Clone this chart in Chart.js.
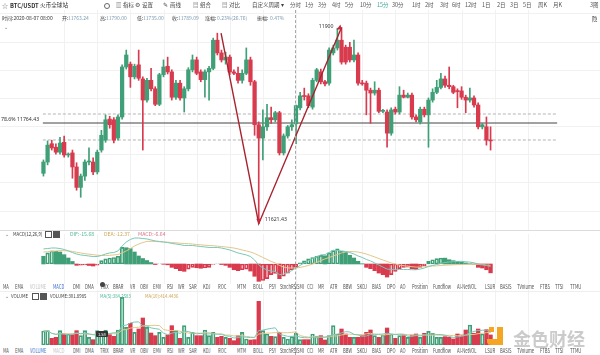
<!DOCTYPE html>
<html>
<head>
<meta charset="utf-8">
<script src="https://cdn.jsdelivr.net/npm/chart.js@4.4.1/dist/chart.umd.min.js"></script>
<style>
  body { margin: 0; background: #fff; width: 600px; height: 355px; overflow: hidden; position: relative;
         font-family: "Noto Sans CJK SC", "Noto Sans", sans-serif; }
  canvas { position: absolute; left: 0; }
  .t { position: absolute; white-space: nowrap; line-height: 1; }
  .box { position: absolute; }
</style>
</head>
<body>
<canvas id="price" width="600" height="220" style="top:10px"></canvas>
<canvas id="macd" width="600" height="50" style="top:234px"></canvas>
<canvas id="vol" width="600" height="55" style="top:290px"></canvas>
<script>
// BTC/USDT 15min candles
const candleOpen = [
  11693, 11709, 11735, 11730, 11723, 11737, 11719, 11722, 11702, 11673,
  11689, 11709, 11709, 11695, 11726, 11740, 11770, 11769, 11743, 11773,
  11844, 11848, 11830, 11847, 11827, 11797, 11825, 11813, 11791, 11833,
  11845, 11837, 11801, 11821, 11800, 11813, 11840, 11854, 11837, 11826,
  11837, 11842, 11882, 11864, 11854, 11858, 11837, 11835, 11825, 11835,
  11854, 11823, 11762, 11743, 11759, 11772, 11769, 11779, 11722, 11746,
  11759, 11763.24, 11786, 11803, 11803, 11787, 11825, 11837, 11823, 11821,
  11864, 11871, 11882, 11872, 11872, 11854, 11861, 11821, 11821, 11811,
  11807, 11811, 11781, 11780, 11750, 11784, 11780, 11804, 11801, 11804,
  11773, 11766, 11784, 11776, 11797, 11808, 11815, 11827, 11818, 11816,
  11810, 11810, 11801, 11797, 11800, 11790, 11759, 11759, 11740
];
const candleHigh = [
  11712, 11739, 11740, 11735, 11744, 11746, 11722, 11726, 11708, 11692,
  11712, 11729, 11715, 11726, 11754, 11776, 11774, 11772, 11776, 11847,
  11868, 11851, 11848, 11868, 11830, 11828, 11842, 11816, 11835, 11854,
  11858, 11840, 11825, 11825, 11816, 11843, 11861, 11858, 11840, 11840,
  11845, 11885, 11892, 11868, 11865, 11861, 11840, 11844, 11840, 11871,
  11858, 11825, 11766, 11783, 11791, 11787, 11781, 11781, 11749, 11761,
  11769, 11790, 11808, 11814, 11806, 11828, 11842, 11841, 11825, 11871,
  11875, 11899, 11900, 11875, 11879, 11882, 11864, 11825, 11824, 11814,
  11823, 11814, 11784, 11783, 11786, 11787, 11816, 11811, 11807, 11807,
  11776, 11787, 11787, 11800, 11813, 11825, 11835, 11831, 11844, 11818,
  11813, 11816, 11804, 11814, 11803, 11793, 11764, 11773, 11759
];
const candleLow = [
  11689, 11705, 11726, 11720, 11720, 11716, 11716, 11686, 11669, 11659,
  11683, 11705, 11691, 11692, 11723, 11737, 11757, 11736, 11740, 11770,
  11841, 11815, 11827, 11825, 11726, 11794, 11810, 11789, 11789, 11830,
  11834, 11797, 11798, 11797, 11780, 11810, 11837, 11833, 11823, 11801,
  11797, 11840, 11861, 11851, 11848, 11833, 11833, 11821, 11821, 11833,
  11818, 11747, 11621.43, 11712, 11754, 11764, 11766, 11719, 11719, 11743,
  11754, 11735, 11783, 11797, 11786, 11784, 11823, 11820, 11817, 11818,
  11861, 11868, 11848, 11848, 11851, 11851, 11818, 11818, 11776, 11764,
  11804, 11779, 11779, 11730, 11747, 11777, 11777, 11800, 11800, 11770,
  11766, 11763, 11773, 11730, 11794, 11806, 11813, 11815, 11813, 11806,
  11786, 11798, 11779, 11794, 11787, 11756, 11756, 11733, 11726
];
const candleClose = [
  11709, 11733, 11729, 11723, 11736, 11719, 11719.5, 11702, 11673, 11689,
  11709, 11710, 11695, 11723, 11747, 11769, 11762, 11740, 11773, 11844,
  11861, 11830, 11845, 11828, 11797, 11825, 11813, 11791, 11833, 11844,
  11837, 11801, 11821, 11800, 11813, 11840, 11854, 11835, 11826, 11837,
  11842, 11882, 11864, 11854, 11858, 11837, 11835, 11825, 11835, 11854,
  11823, 11762, 11743, 11759, 11772, 11769, 11779, 11722, 11746, 11759,
  11762, 11789.09, 11803, 11802, 11789, 11825, 11840, 11823, 11820, 11868,
  11871, 11882, 11851, 11851, 11854, 11861, 11821, 11820, 11811, 11807,
  11811, 11781, 11782, 11750, 11783, 11780, 11804, 11801, 11804, 11773,
  11769, 11784, 11776, 11797, 11808, 11815, 11827, 11818, 11816, 11808,
  11809, 11801, 11797, 11800, 11790, 11759, 11762, 11740, 11739
];
const volume = [
  420, 430, 200, 230, 430, 330, 330, 310, 430, 280,
  430, 230, 160, 430, 380, 450, 310, 260, 450, 1430,
  530, 650, 380, 480, 810, 530, 360, 280, 380, 230,
  300, 580, 430, 200, 580, 230, 380, 280, 280, 450,
  280, 380, 230, 260, 230, 200, 130, 280, 380, 180,
  150, 160, 1310, 430, 330, 260, 250, 380, 230, 180,
  250, 350, 160, 160, 160, 330, 270, 280, 150, 280,
  580, 330, 480, 330, 230, 230, 230, 280, 380, 450,
  280, 230, 300, 510, 330, 200, 280, 280, 230, 300,
  330, 230, 350, 410, 350, 230, 230, 250, 230, 180,
  330, 300, 450, 600, 350, 480, 330, 460, 301.8985
];
const macdHist = [
  5.8, 8.3, 9.8, 9.5, 9.0, 7.0, 4.5, 1.9, -1.0, -0.8,
  -0.6, -1.1, -1.5, -0.9, 2.5, 3.8, 4.5, 4.9, 5.8, 12.5,
  12.2, 11.6, 9.0, 6.0, 4.1, 2.6, 1.1, -0.4, 0.2, -0.2,
  -0.6, -2.5, -3.5, -5.0, -5.5, -3.8, -2.5, -2.8, -3.2, -3.0,
  -2.5, -0.4, 0.2, -0.4, -1.0, -2.5, -4.3, -5.0, -4.3, -3.8,
  -5.3, -9.2, -13.0, -12.4, -11.0, -8.0, -7.1, -11.0, -9.2, -6.8,
  -4.3, -2.5, 0.8, 2.3, 3.8, 4.9, 5.8, 6.5, 6.2, 8.3,
  10.0, 11.3, 9.5, 9.0, 6.5, 4.5, 2.0, 0.2, -2.5, -3.5,
  -5.0, -6.8, -8.0, -9.8, -8.0, -5.5, -3.5, -2.5, -2.3, -3.5,
  -4.1, -2.5, -1.3, 2.0, 3.2, 4.0, 4.5, 4.4, 3.2, 2.5,
  2.0, 1.5, 0.8, 0.2, -0.2, -2.5, -3.0, -4.3, -6.64
];
const macdDif = [
  11.3, 11.6, 12.0, 12.0, 11.6, 10.9, 9.8, 8.6, 7.5, 6.8,
  6.4, 6.0, 5.6, 5.6, 6.4, 7.5, 8.3, 8.6, 9.8, 13.5,
  16.5, 18.4, 19.5, 19.5, 19.1, 18.8, 18.0, 17.3, 16.9, 16.5,
  16.1, 15.4, 15.0, 14.5, 13.9, 13.9, 13.9, 13.5, 13.1, 12.8,
  12.4, 12.4, 12.4, 12.0, 11.3, 10.5, 9.4, 8.3, 7.5, 6.8,
  5.6, 3.0, -0.8, -3.0, -4.5, -5.3, -5.6, -8.0, -7.5, -6.4,
  -4.9, -3.0, -1.1, 0.8, 2.3, 4.1, 5.6, 6.8, 7.1, 8.6,
  10.3, 10.1, 9.8, 9.4, 8.6, 7.5, 6.0, 4.9, 3.4, 2.3,
  0.8, -0.8, -2.3, -3.8, -4.1, -4.3, -4.1, -4.1, -4.1, -4.3,
  -4.3, -3.8, -3.0, -1.9, -1.1, -0.4, 0.4, 1.1, 1.5, 1.7,
  1.9, 2.0, 1.7, 1.4, 0.9, 0.0, -0.6, -1.1, -1.9
];
const macdDea = [
  9.0, 9.2, 9.5, 9.8, 10.0, 10.0, 9.8, 9.4, 8.8, 8.3,
  7.7, 7.4, 7.0, 6.6, 6.4, 6.4, 6.5, 6.8, 7.1, 8.3,
  9.8, 11.6, 13.5, 15.0, 16.1, 17.0, 17.0, 16.9, 16.7, 16.5,
  16.4, 16.1, 15.9, 15.6, 15.4, 15.2, 15.0, 14.6, 14.4, 14.1,
  13.9, 13.7, 13.4, 13.1, 12.8, 12.4, 12.0, 11.3, 10.5, 9.8,
  9.0, 7.9, 6.4, 4.9, 3.4, 1.9, 0.8, -1.1, -2.3, -2.9,
  -3.0, -3.0, -2.6, -1.9, -1.1, 0.0, 1.1, 2.6, 3.8, 4.9,
  6.0, 7.1, 8.3, 9.0, 9.4, 9.2, 9.0, 8.3, 7.5, 6.4,
  5.3, 4.1, 3.0, 1.9, 0.8, 0.0, -0.8, -1.3, -1.7, -2.0,
  -2.3, -2.3, -2.0, -1.7, -1.5, -1.4, -1.1, -0.9, -0.8, -0.6,
  -0.5, -0.4, -0.2, -0.2, -0.2, -0.3, -0.5, -0.8, -1.0
];
// drawings on the price pane
const fibDashed = [11777.2, 11740.3];
const fibLevel = 11764.43;
const swingX = [42.9, 52, 72];
const swingPrice = [11892, 11621.43, 11900];

const X_MIN = -0.145, X_MAX = 124.08;
const green = '#3f9f76', red = '#d83a4e';
const idx = candleOpen.map((_, i) => i);
const up = (i) => candleClose[i] >= candleOpen[i];

function movingAvg(arr, n) {
  return arr.map((_, i) => {
    const s = arr.slice(Math.max(0, i - n + 1), i + 1);
    return s.reduce((a, b) => a + b, 0) / s.length;
  });
}

function gridPlugin(hStep, hFrom, hTo) {
  return {
    id: 'paneGrid',
    beforeDatasetsDraw(chart) {
      const { ctx, chartArea: a, scales: { x, y } } = chart;
      ctx.save();
      ctx.strokeStyle = '#f1f1f1';
      ctx.lineWidth = 1;
      ctx.beginPath();
      for (let i = 5; i < X_MAX; i += 8) {
        const px = Math.round(x.getPixelForValue(i)) + 0.5;
        ctx.moveTo(px, a.top);
        ctx.lineTo(px, a.bottom);
      }
      if (hStep) {
        for (let v = hFrom; v <= hTo; v += hStep) {
          const py = Math.round(y.getPixelForValue(v)) + 0.5;
          ctx.moveTo(a.left, py);
          ctx.lineTo(a.right, py);
        }
      }
      ctx.stroke();
      ctx.restore();
    }
  };
}

const priceLabels = {
  id: 'priceLabels',
  afterDatasetsDraw(chart) {
    const { ctx, scales: { x, y } } = chart;
    ctx.save();
    ctx.font = '5.2px "Noto Sans"';
    ctx.fillStyle = '#333';
    ctx.textBaseline = 'middle';
    ctx.fillText('78.6% ' + fibLevel.toFixed(2), 1, y.getPixelForValue(fibLevel) - 3.5);

    const hx = x.getPixelForValue(swingX[2]), hy = y.getPixelForValue(swingPrice[2]);
    ctx.textAlign = 'right';
    ctx.fillText(String(swingPrice[2]), hx - 8, hy - 1);
    const lx = x.getPixelForValue(swingX[1]), ly = y.getPixelForValue(swingPrice[1]);
    ctx.textAlign = 'left';
    ctx.fillText(swingPrice[1].toFixed(2), lx + 6, ly - 4);

    ctx.fillStyle = '#c8283a';
    ctx.beginPath();
    ctx.moveTo(hx - 5, hy + 2);
    ctx.lineTo(hx - 1, hy - 3);
    ctx.lineTo(hx, hy + 2);
    ctx.closePath();
    ctx.fill();
    ctx.beginPath();
    ctx.moveTo(lx - 2.5, ly - 5);
    ctx.lineTo(lx + 2.5, ly - 5);
    ctx.lineTo(lx, ly);
    ctx.closePath();
    ctx.fill();
    ctx.restore();
  }
};

function baseOptions(yMin, yMax) {
  return {
    responsive: false,
    animation: false,
    events: [],
    layout: { padding: 0 },
    plugins: { legend: { display: false }, tooltip: { enabled: false } },
    scales: {
      x: { type: 'linear', display: false, min: X_MIN, max: X_MAX },
      y: { display: false, min: yMin, max: yMax }
    }
  };
}

function hLine(price, color, dash) {
  return {
    type: 'line', order: 3,
    data: [{ x: X_MIN, y: price }, { x: X_MAX, y: price }],
    borderColor: color, borderWidth: 1, borderDash: dash, pointRadius: 0
  };
}

new Chart(document.getElementById('price'), {
  type: 'bar',
  data: {
    datasets: [
      {
        type: 'line', order: 0,
        data: swingX.map((x, i) => ({ x: x, y: swingPrice[i] })),
        borderColor: '#a8232f', borderWidth: 1.4, pointRadius: 0
      },
      {
        type: 'bar', order: 1, grouped: false, barThickness: 3.6, minBarLength: 1,
        data: idx.map((i) => ({ x: i, y: [candleOpen[i], candleClose[i]] })),
        backgroundColor: (c) => (up(c.dataIndex) ? green : red)
      },
      {
        type: 'bar', order: 2, grouped: false, barThickness: 1,
        data: idx.map((i) => ({ x: i, y: [candleLow[i], candleHigh[i]] })),
        backgroundColor: (c) => (up(c.dataIndex) ? green : red)
      },
      hLine(fibDashed[0], '#b4b4b4', [3, 2]),
      hLine(fibDashed[1], '#b4b4b4', [3, 2]),
      hLine(fibLevel, '#444', [])
    ]
  },
  options: baseOptions(11612.49, 11924.89),
  plugins: [gridPlugin(40, 11640, 11920), priceLabels]
});

const histUp = (i) => i > 0 && macdHist[i] > macdHist[i - 1];
new Chart(document.getElementById('macd'), {
  type: 'bar',
  data: {
    datasets: [
      {
        type: 'line', order: 0, data: idx.map((i) => ({ x: i, y: macdDif[i] })),
        borderColor: '#79c7b6', borderWidth: 1, pointRadius: 0
      },
      {
        type: 'line', order: 1, data: idx.map((i) => ({ x: i, y: macdDea[i] })),
        borderColor: '#e2c68a', borderWidth: 1, pointRadius: 0
      },
      {
        type: 'bar', order: 2, grouped: false, barThickness: 3.6, borderSkipped: false,
        data: idx.map((i) => ({ x: i, y: macdHist[i] })),
        backgroundColor: (c) => (histUp(c.dataIndex) ? 'rgba(0,0,0,0)' : (macdHist[c.dataIndex] >= 0 ? green : red)),
        borderColor: (c) => (macdHist[c.dataIndex] >= 0 ? green : red),
        borderWidth: (c) => (histUp(c.dataIndex) ? 1 : 0)
      }
    ]
  },
  options: baseOptions(-15, 22.5),
  plugins: [gridPlugin()]
});

new Chart(document.getElementById('vol'), {
  type: 'bar',
  data: {
    datasets: [
      {
        type: 'line', order: 0, data: movingAvg(volume, 5).map((v, i) => ({ x: i, y: v })),
        borderColor: '#79c7b6', borderWidth: 1, pointRadius: 0
      },
      {
        type: 'line', order: 1, data: movingAvg(volume, 10).map((v, i) => ({ x: i, y: v })),
        borderColor: '#e2c68a', borderWidth: 1, pointRadius: 0
      },
      {
        type: 'bar', order: 2, grouped: false, barThickness: 3.6, borderSkipped: false,
        data: idx.map((i) => ({ x: i, y: volume[i] })),
        backgroundColor: (c) => (up(c.dataIndex) ? 'rgba(0,0,0,0)' : red),
        borderColor: (c) => (up(c.dataIndex) ? green : red),
        borderWidth: (c) => (up(c.dataIndex) ? 1 : 0)
      }
    ]
  },
  options: baseOptions(0, 1650),
  plugins: [gridPlugin()]
});

// ---- page chrome: toolbars, headers, tabs ----
function put(text, x, y, size, color, extra) {
  const d = document.createElement('div');
  d.className = 't';
  d.textContent = text;
  d.style.left = x + 'px';
  d.style.top = (y - size / 2) + 'px';
  d.style.fontSize = size + 'px';
  d.style.color = color;
  if (extra) Object.assign(d.style, extra);
  document.body.appendChild(d);
}
function box(x, y, w, h, style) {
  const d = document.createElement('div');
  d.className = 'box';
  Object.assign(d.style, { left: x + 'px', top: y + 'px', width: w + 'px', height: h + 'px' }, style);
  document.body.appendChild(d);
}
const narrow = { transform: 'scaleX(0.84)', transformOrigin: 'left center' };

put('☆', 2, 5.5, 6, '#555');
put('BTC/USDT', 10, 5.5, 5.8, '#333', { fontWeight: 'bold' });
put('火币全球站', 40, 5.5, 5.6, '#333');
box(104, 3, 4, 4, { border: '1px solid #666', borderRadius: '50%' });
const tools = [['指标', 123, '▥'], ['设置', 142, '⚙'], ['画线', 170, '✎'], ['组合', 200, '▤'], ['对比', 229, '▤']];
tools.forEach(([t, x, ic]) => {
  put(ic, x - 7, 5.5, 5.5, '#555');
  put(t, x, 5.5, 5.5, '#444');
});
put('自定义周期 ▾', 252, 5.5, 5.5, '#444');
const periods = [['分时', 290], ['1分', 305], ['3分', 318], ['4时', 332], ['5分', 345], ['10分', 360],
  ['15分', 377], ['30分', 392], ['1时', 412], ['2时', 425], ['3时', 440], ['6时', 452], ['12时', 465],
  ['1日', 482], ['2日', 497], ['3日', 510], ['5日', 523], ['周K', 538], ['月K', 553]];
periods.forEach(([t, x]) => put(t, x, 5.5, 5.5, t === '15分' ? '#3aa39a' : '#555'));
put('3图', 590, 5.5, 5.5, '#555');
put('隐', 592, 20, 5.5, '#333');

const info = [['时间:2020-08-07 08:00', 2, '#444'], ['开:', 62, '#444'], ['11763.24', 68, '#7b9bb0'],
  ['高:', 100, '#444'], ['11790.00', 106, '#7b9bb0'], ['低:', 137, '#444'], ['11735.00', 143, '#7b9bb0'],
  ['收:', 172, '#444'], ['11789.09', 178, '#7b9bb0'], ['涨幅:', 205, '#444'], ['0.23%(26.76)', 217, '#7b9bb0'],
  ['振幅:', 257, '#444'], ['0.47%', 270, '#7b9bb0']];
info.forEach(([t, x, c]) => put(t, x, 17.5, 5, c));
put('⌄', 4, 26, 5, '#666');

box(0, 230, 600, 1, { background: '#dcdcdc' });
box(0, 291, 600, 1, { background: '#eeeeee' });
box(295, 10, 0, 345, { borderLeft: '1px dashed #a8a8a8' });

put('⌄', 5, 233, 5, '#666');
put('MACD(12,26,9)', 13, 233.5, 5.2, '#444', narrow);
box(45, 231, 5, 5, { border: '1px solid #555' });
box(53, 231, 5, 5, { border: '1px solid #555', background: '#555' });
put('DIF:-15.68', 70, 233.5, 5.2, '#4fb89a');
put('DEA:-12.37', 104, 233.5, 5.2, '#cfa85a');
put('MACD:-6.64', 138, 233.5, 5.2, '#d9778a');

put('⌄', 5, 295.5, 5, '#666');
put('VOLUME', 11, 296, 5.2, '#444', narrow);
box(32, 293, 5, 5, { border: '1px solid #555' });
box(40, 293, 5, 5, { border: '1px solid #555', background: '#555' });
put('VOLUME:301.8985', 50, 296, 5.2, '#444', narrow);
put('MA(5):384.2583', 100, 296, 5.2, '#4fb89a', narrow);
put('MA(10):414.4436', 145, 296, 5.2, '#cfa85a', narrow);

const tabs = ['MA', 'EMA', 'VOLUME', 'MACD', 'DMI', 'DMA', 'TRIX', 'BRAR', 'VR', 'OBV', 'EMV', 'RSI', 'WR',
  'SAR', 'KDJ', 'ROC', 'MTM', 'BOLL', 'PSY', 'StochRSI', 'SMI', 'CCI', 'MR', 'ATR', 'BBW', 'SKDJ', 'BIAS',
  'DPO', 'AO', 'Position', 'Fundflow', 'AI-NetVOL', 'LSUR', 'BASIS', 'TVolume', 'FTBS', 'TTSI', 'TTMU'];
const tabX = [3, 15, 30, 53, 73, 85, 100, 113, 130, 140, 153, 167, 178, 189, 203, 218, 237, 253, 269, 280,
  297, 307, 318, 330, 343, 357, 372, 387, 400, 412, 433, 457, 485, 500, 517, 540, 555, 570];
function tabRow(y, active, muted) {
  tabs.forEach((t, i) => {
    const c = t === active ? '#3b6fd0' : (t === muted ? '#c4c4c4' : '#505050');
    put(t, tabX[i], y, 5.6, c, { transform: 'scaleX(0.74)', transformOrigin: 'left center' });
  });
}
tabRow(288, 'MACD', 'VOLUME');
tabRow(352, 'VOLUME', 'MACD');
box(100, 282, 5, 5, { background: '#444', borderRadius: '50%' });
box(96, 331, 12, 6, { background: '#333', borderRadius: '1px' });
put('1.58', 98, 334, 4, '#fff');

// watermark
box(489, 327, 5, 5, { background: '#f4a523' });
box(497, 327, 6, 17, { background: '#f4a523' });
box(487, 339, 16, 6, { background: '#f4a523', borderBottomLeftRadius: '4px' });
put('金色财经', 513, 338, 18, 'rgba(160,160,160,0.55)', { fontWeight: 'bold' });
</script>
</body>
</html>
